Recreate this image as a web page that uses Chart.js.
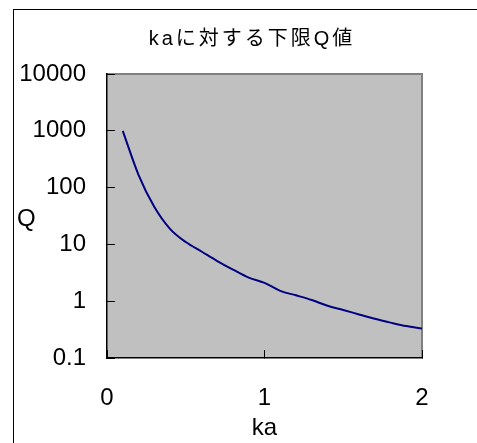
<!DOCTYPE html>
<html>
<head>
<meta charset="utf-8">
<script src="https://cdn.jsdelivr.net/npm/chart.js@4/dist/chart.umd.min.js"></script>
<style>
  html, body { margin: 0; padding: 0; background: #fff; }
  #wrap { width: 477px; height: 443px; position: relative; }
</style>
</head>
<body>
<div id="wrap"><canvas id="qChart"></canvas></div>
<script>
// data
const kaValues = [0.1, 0.2, 0.3, 0.4, 0.5, 0.6, 0.7, 0.8, 0.9, 1.0,
                  1.1, 1.2, 1.3, 1.4, 1.5, 1.6, 1.7, 1.8, 1.9, 2.0];
const qValues = [1000, 168, 46, 18.8, 11.0, 7.5, 5.1, 3.6, 2.6, 2.1,
                 1.52, 1.27, 1.05, 0.83, 0.70, 0.585, 0.49, 0.42, 0.365, 0.33];
const yTickValues = [0.1, 1, 10, 100, 1000, 10000];
const chartTitle = "kaに対する下限Q値";
const xTitle = "ka";
const yTitle = "Q";

const fontFamily = "'Liberation Sans', Arial, 'Noto Sans CJK JP', sans-serif";

const points = kaValues.map((ka, i) => ({ x: ka, y: qValues[i] }));

// grey plot area, outer frame, title and the horizontal "Q"
const decorations = {
  id: "decorations",
  beforeDraw(chart) {
    const c = chart.ctx;
    const a = chart.chartArea;
    c.save();
    c.fillStyle = "#fff";
    c.fillRect(0, 0, chart.width, chart.height);
    c.strokeStyle = "#000";
    c.lineWidth = 1;
    c.strokeRect(13.5, 9.5, 700, 700);
    c.fillStyle = "#c0c0c0";
    c.fillRect(a.left, a.top, a.right - a.left, a.bottom - a.top);
    c.strokeStyle = "#808080";
    c.lineWidth = 2;
    c.beginPath();
    c.moveTo(a.left, a.top);
    c.lineTo(a.right, a.top);
    c.lineTo(a.right, a.bottom);
    c.stroke();
    c.restore();
  },
  afterDraw(chart) {
    const c = chart.ctx;
    c.save();
    c.fillStyle = "#000";
    c.font = "20px " + fontFamily;
    c.textBaseline = "middle";
    c.textAlign = "center";
    c.letterSpacing = "3px";
    c.fillText(chartTitle, 252, 39);
    c.letterSpacing = "0px";
    c.font = "24px " + fontFamily;
    c.textAlign = "left";
    c.textBaseline = "alphabetic";
    c.fillText(yTitle, 17, 226);
    c.restore();
  }
};

new Chart(document.getElementById("qChart"), {
  type: "line",
  data: {
    datasets: [{
      data: points,
      borderColor: "#000080",
      borderWidth: 2,
      pointRadius: 0,
      cubicInterpolationMode: "monotone",
      fill: false
    }]
  },
  options: {
    responsive: true,
    maintainAspectRatio: false,
    animation: false,
    layout: { padding: { top: 74, right: 55, left: 0, bottom: 0 } },
    plugins: {
      legend: { display: false },
      title: { display: false },
      tooltip: { enabled: false }
    },
    scales: {
      x: {
        type: "linear",
        min: 0,
        max: 2,
        afterFit: (s) => { s.height = 85; },
        ticks: {
          stepSize: 1,
          color: "#000",
          padding: 34,
          font: { family: fontFamily, size: 24 }
        },
        grid: {
          drawOnChartArea: false,
          drawTicks: true,
          tickLength: -8,
          color: "#000",
          lineWidth: 1
        },
        border: { color: "#000", width: 1.5 },
        title: {
          display: true,
          text: xTitle,
          color: "#000",
          padding: { top: 0, bottom: 0 },
          font: { family: fontFamily, size: 24 }
        }
      },
      y: {
        type: "logarithmic",
        min: 0.1,
        max: 10000,
        afterFit: (s) => { s.width = 107; },
        afterBuildTicks: (s) => { s.ticks = yTickValues.map(v => ({ value: v })); },
        ticks: {
          color: "#000",
          padding: 29,
          font: { family: fontFamily, size: 24 },
          callback: (v) => String(v)
        },
        grid: {
          drawOnChartArea: false,
          drawTicks: true,
          tickLength: -8,
          color: "#000",
          lineWidth: 1
        },
        border: { color: "#000", width: 1.5 }
      }
    }
  },
  plugins: [decorations]
});
</script>
</body>
</html>
